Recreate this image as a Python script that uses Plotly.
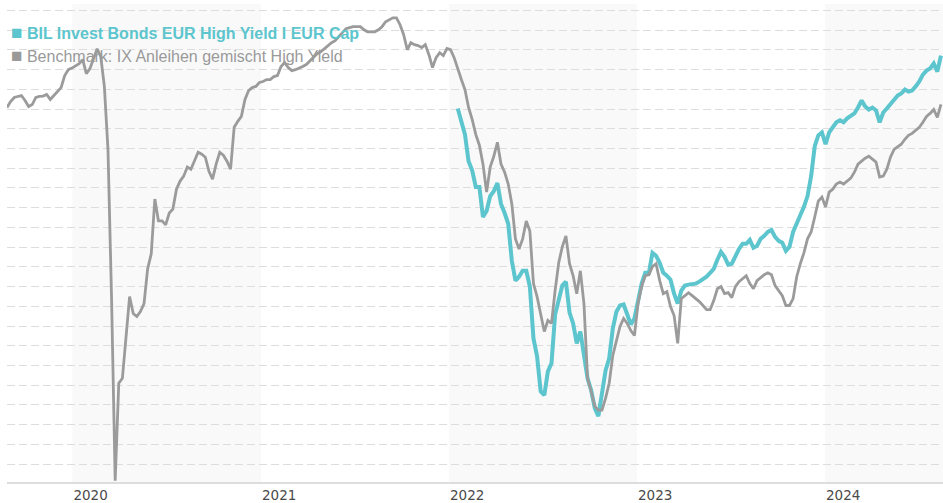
import pandas as pd
import plotly.graph_objects as go

# Weekly observation dates (every 7 days)
dates = pd.date_range("2019-08-27", periods=260, freq="7D")

benchmark_name = "Benchmark: IX Anleihen gemischt High Yield"
fund_name = "BIL Invest Bonds EUR High Yield I EUR Cap"

benchmark = [
    100.08, 100.38, 100.59, 100.66, 100.69, 100.44, 100.13, 100.23, 100.59, 100.64,
    100.66, 100.74, 100.49, 100.69, 100.89, 101.09, 101.70, 102.00, 102.08, 102.20,
    102.30, 102.51, 101.80, 102.05, 102.61, 103.06, 102.66, 101.15, 97.96, 90.39,
    81.15, 86.10, 86.35, 88.62, 90.49, 89.63, 89.48, 89.73, 90.14, 91.90,
    92.66, 95.44, 94.33, 94.33, 94.13, 94.73, 94.93, 95.94, 96.35, 96.60,
    97.06, 96.95, 97.36, 97.81, 97.71, 97.56, 96.85, 96.45, 97.21, 97.81,
    97.66, 97.36, 96.95, 99.08, 99.38, 99.63, 100.49, 100.94, 101.09, 101.15,
    101.35, 101.40, 101.50, 101.50, 101.65, 101.70, 102.16, 102.36, 102.11, 101.95,
    102.00, 102.06, 102.16, 102.26, 102.46, 102.66, 102.81, 102.91, 103.07, 103.22,
    103.37, 103.47, 103.67, 103.87, 104.08, 104.13, 104.18, 104.18, 104.18, 104.02,
    103.92, 103.92, 103.92, 104.02, 104.18, 104.43, 104.53, 104.63, 104.63, 104.28,
    103.77, 103.01, 103.37, 103.27, 103.22, 103.12, 103.27, 102.76, 102.11, 102.61,
    102.86, 102.71, 103.07, 103.01, 102.61, 102.00, 101.50, 100.99, 100.08, 99.48,
    98.72, 98.17, 97.21, 95.79, 97.06, 97.61, 98.32, 97.21, 96.80, 96.20,
    95.19, 93.42, 92.91, 93.42, 94.33, 93.82, 91.15, 90.49, 89.63, 88.72,
    89.28, 89.13, 90.79, 92.21, 93.02, 93.57, 92.16, 91.55, 90.64, 91.80,
    90.14, 86.35, 85.69, 84.94, 84.73, 84.73, 85.34, 86.10, 87.51, 88.22,
    88.98, 89.38, 89.13, 88.77, 88.52, 90.14, 91.00, 91.55, 91.60, 92.01,
    92.16, 91.30, 90.64, 90.74, 89.99, 89.53, 88.12, 90.39, 90.54, 90.69,
    90.54, 90.39, 90.24, 90.04, 89.83, 89.83, 90.29, 90.89, 91.00, 90.64,
    90.69, 90.44, 91.00, 91.25, 91.40, 91.55, 91.15, 90.89, 91.30, 91.45,
    91.60, 91.70, 91.60, 91.05, 90.79, 90.54, 90.04, 90.04, 90.39, 91.50,
    92.16, 92.71, 93.42, 93.77, 94.53, 95.34, 95.54, 95.04, 95.79, 95.94,
    96.20, 96.30, 96.20, 96.35, 96.50, 96.80, 97.21, 97.36, 97.51, 97.61,
    97.46, 97.31, 96.55, 96.60, 96.95, 97.56, 97.96, 98.07, 98.22, 98.47,
    98.67, 98.77, 98.92, 99.08, 99.33, 99.63, 99.78, 99.98, 99.58, 100.24,
]

fund_start = 125  # fund series begins in January 2022
fund = [
    100.03, 99.43, 98.72, 97.36, 96.90, 96.05, 96.05, 94.53, 94.83, 95.59,
    95.84, 96.25, 95.19, 94.73, 94.18, 92.31, 91.30, 91.50, 91.80, 91.80,
    91.00, 88.37, 87.46, 85.69, 85.49, 86.70, 87.11, 89.58, 90.29, 91.05,
    91.25, 89.68, 89.13, 88.12, 88.72, 87.46, 86.35, 85.74, 84.83, 84.43,
    85.59, 86.75, 87.36, 88.87, 89.73, 90.04, 90.09, 89.58, 89.08, 89.38,
    90.39, 91.15, 91.70, 91.70, 92.71, 92.56, 92.21, 91.70, 91.55, 91.35,
    90.64, 90.14, 90.79, 91.05, 91.10, 91.10, 91.15, 91.25, 91.35, 91.50,
    91.70, 91.90, 92.36, 92.76, 92.51, 92.11, 92.16, 92.56, 92.91, 93.17,
    93.17, 93.37, 92.97, 93.07, 93.42, 93.57, 93.77, 93.87, 93.52, 93.32,
    93.22, 92.81, 93.02, 93.77, 94.18, 94.58, 95.04, 95.59, 96.60, 98.12,
    98.67, 98.82, 98.22, 98.82, 99.08, 99.33, 99.43, 99.33, 99.53, 99.68,
    99.78, 100.08, 100.44, 100.13, 99.98, 100.08, 99.93, 99.33, 99.83, 100.03,
    100.24, 100.49, 100.69, 100.79, 100.99, 100.89, 100.94, 101.15, 101.40, 101.75,
    101.95, 102.06, 102.31, 101.90, 102.71,
]

year_starts = ["2020-01-01", "2021-01-01", "2022-01-01", "2023-01-01", "2024-01-01"]
year_labels = ["2020", "2021", "2022", "2023", "2024"]
shaded_years = [("2020-01-01", "2021-01-01"), ("2022-01-01", "2023-01-01"), ("2024-01-01", "2024-08-17")]

TEAL = "#5cc5cd"
GREY = "#9b9b9b"

fig = go.Figure()
fig.add_trace(go.Scatter(
    x=dates[fund_start:fund_start + len(fund)], y=fund, mode="lines",
    line=dict(color=TEAL, width=4), name=fund_name, showlegend=False,
))
fig.add_trace(go.Scatter(
    x=dates[:len(benchmark)], y=benchmark, mode="lines",
    line=dict(color=GREY, width=2.8), name=benchmark_name, showlegend=False,
))

for a, b in shaded_years:
    fig.add_shape(type="rect", xref="x", yref="paper", x0=a, x1=b, y0=0, y1=1,
                  fillcolor="#f9f9f9", line=dict(width=0), layer="below")

fig.add_annotation(
    xref="paper", yref="paper", x=0.002, y=0.94, xanchor="left", yanchor="middle",
    showarrow=False, align="left",
    text=f"<span style='font-size:19px'>■</span> <b>{fund_name}</b>",
    font=dict(family="Liberation Sans, Arial", size=16, color=TEAL),
)
fig.add_annotation(
    xref="paper", yref="paper", x=0.002, y=0.893, xanchor="left", yanchor="middle",
    showarrow=False, align="left",
    text=f"<span style='font-size:19px'>■</span> {benchmark_name}",
    font=dict(family="Liberation Sans, Arial", size=16, color="#999999"),
)

fig.update_layout(
    width=943, height=503,
    margin=dict(l=7, r=0, t=4, b=19),
    paper_bgcolor="white", plot_bgcolor="white",
    showlegend=False,
    xaxis=dict(
        type="date", range=["2019-08-27", "2024-08-17"],
        tickvals=year_starts, ticktext=year_labels,
        ticklabelposition="outside right", ticks="",
        tickfont=dict(family="DejaVu Sans", size=13.5, color="#4a4a4a"),
        showgrid=False, zeroline=False,
        showline=True, linecolor="#dddddd", linewidth=2,
    ),
    yaxis=dict(
        range=[81.09, 105.33], tick0=82, dtick=1,
        showticklabels=False, ticks="",
        showgrid=True, gridcolor="#dddddd", gridwidth=1, griddash="8px,4px",
        zeroline=False, showline=False,
    ),
)

fig.write_html(
    "out.html",
    config={"displayModeBar": False},
    post_script="document.body.style.margin='0';document.body.style.overflow='hidden';",
)
